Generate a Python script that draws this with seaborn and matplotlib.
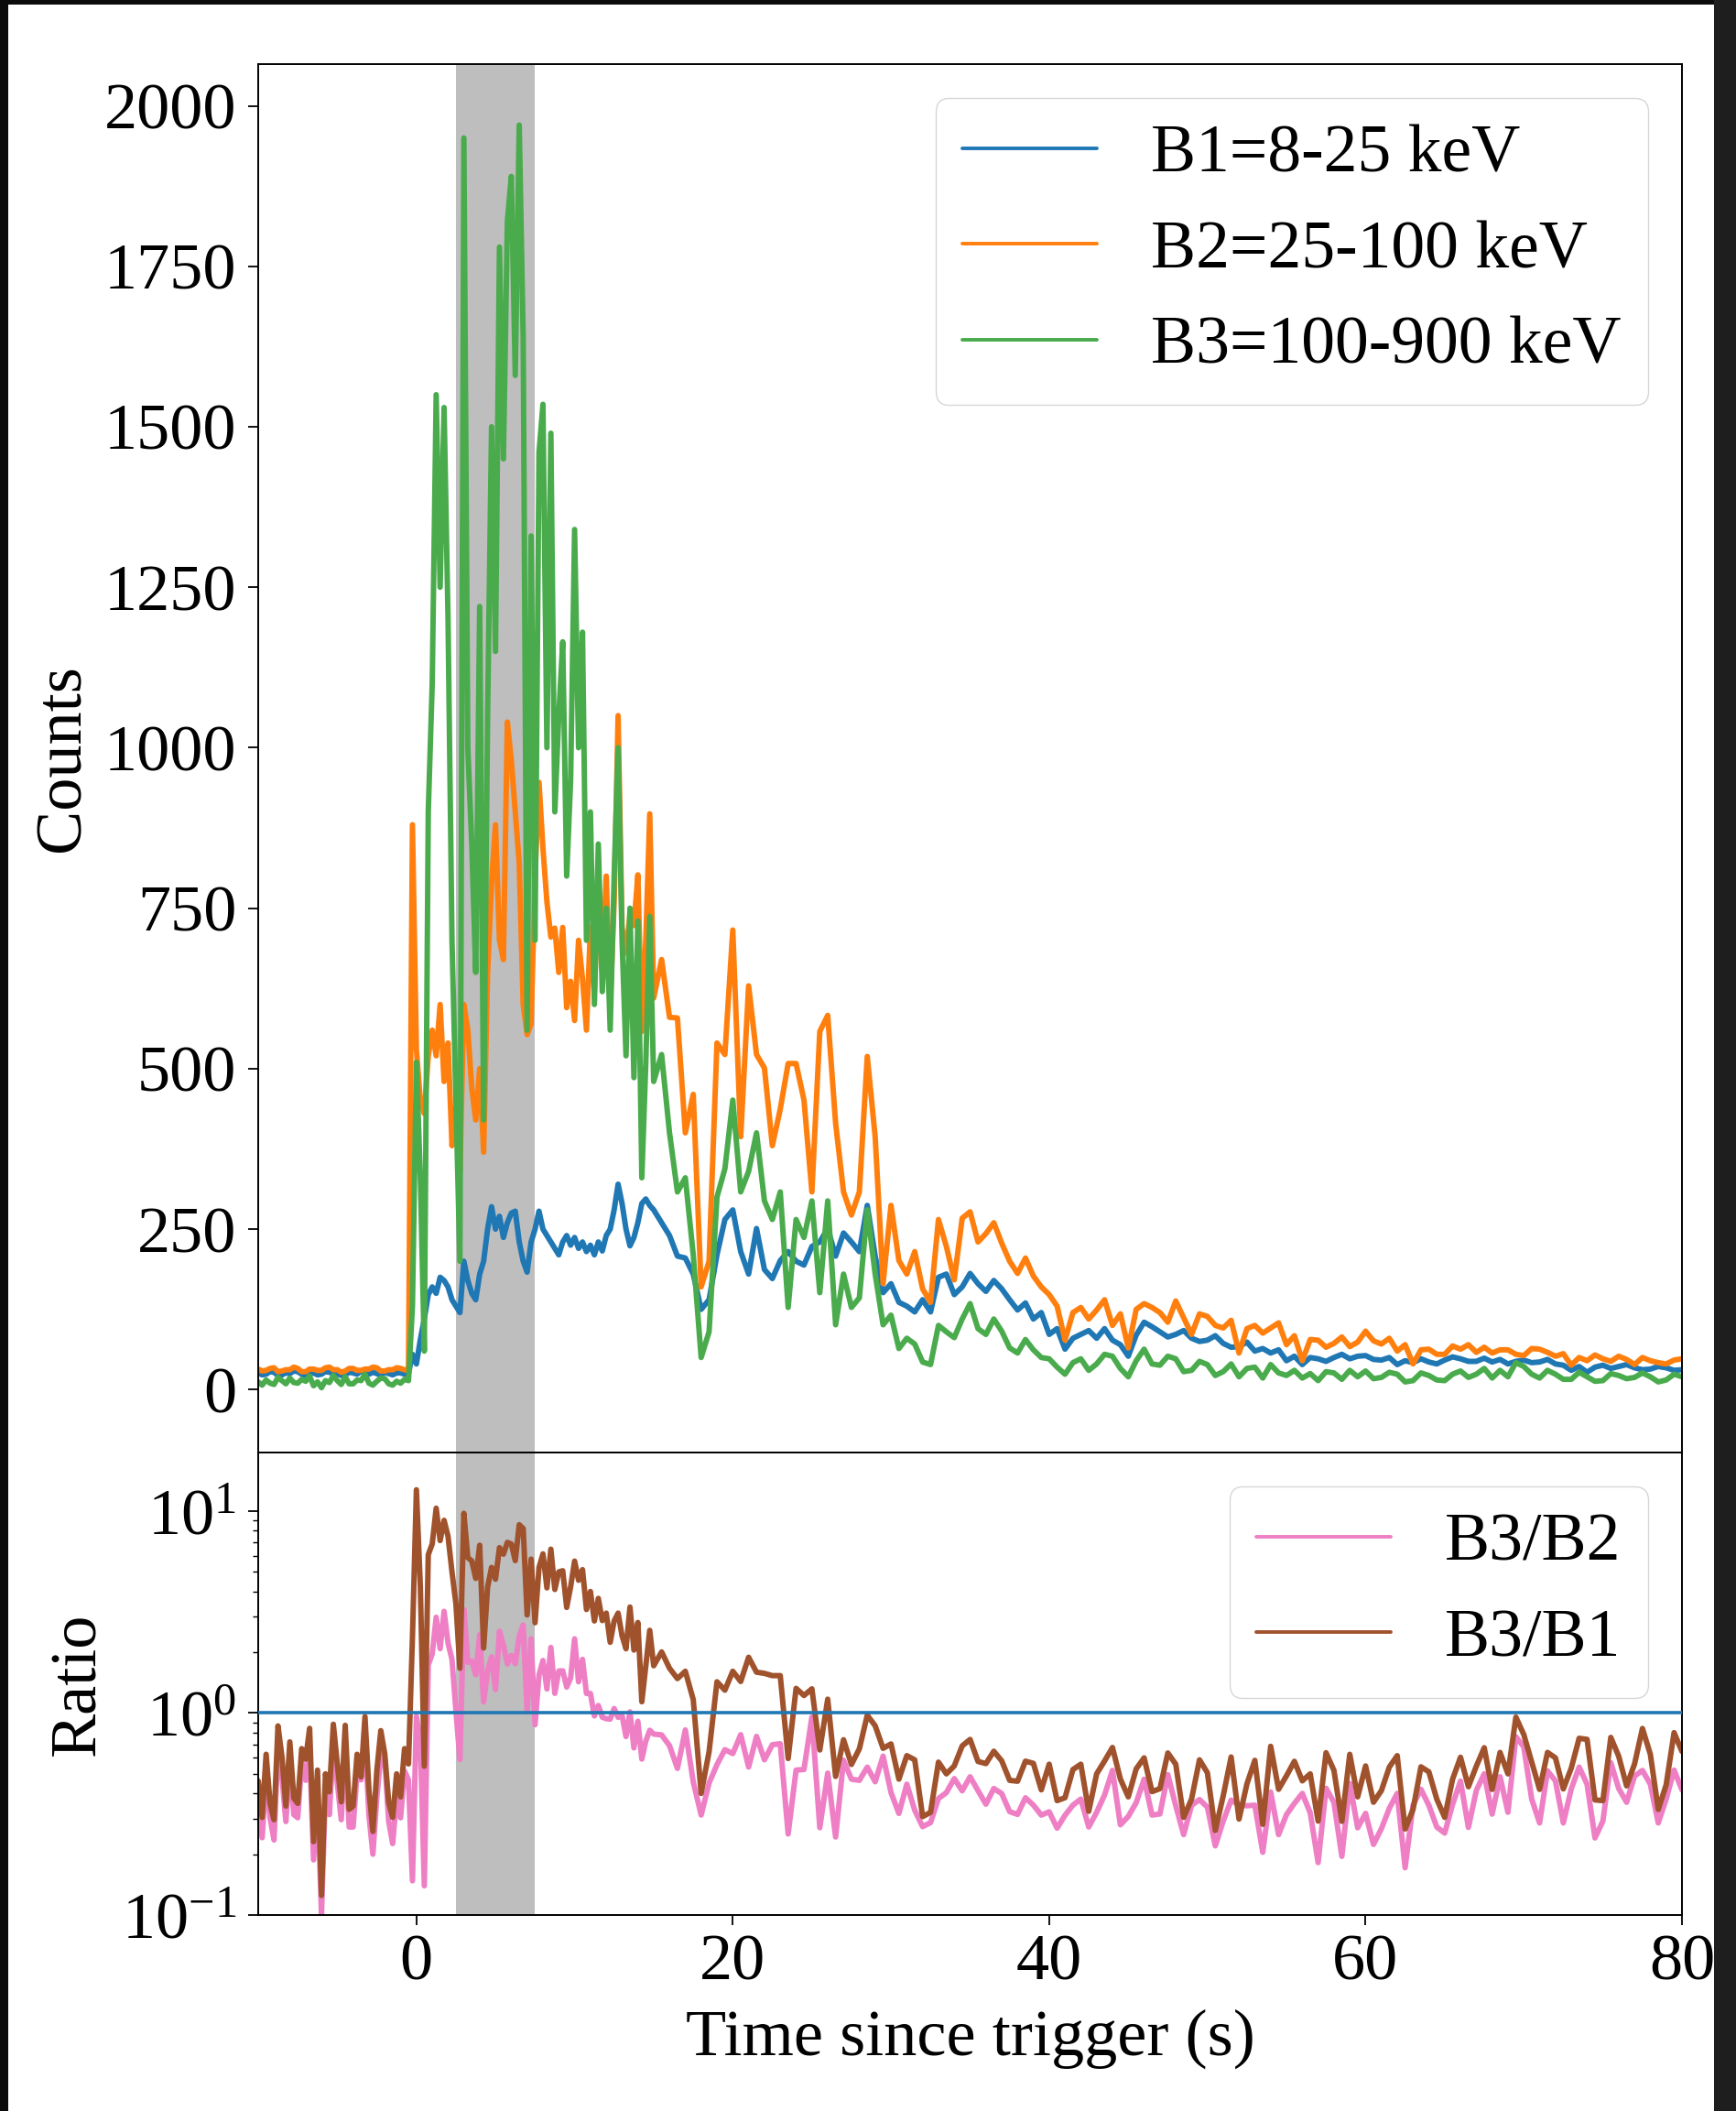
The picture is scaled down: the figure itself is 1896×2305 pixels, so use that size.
import numpy as np
import pandas as pd
import matplotlib
matplotlib.use("Agg")
import matplotlib.pyplot as plt
import seaborn as sns
from matplotlib.patches import Rectangle

# ---------------- data ----------------
# time grid (s): pre-trigger 0.25 s, burst 0.25 s, decay 0.5 s, tail 0.5 s
time_pre = np.linspace(-10.0, -0.5, 39)
time_burst = np.linspace(-0.25, 14.75, 61)
time_mid = np.linspace(15.0, 34.5, 40)
time_tail = np.linspace(35.0, 80.0, 91)

B1_pre = [26, 23, 24, 28, 27, 22, 23, 26, 25, 29, 28, 24, 22, 25, 26, 23, 24, 28, 27, 25,
          25, 22, 23, 27, 26, 24, 29, 25, 24, 27, 25, 22, 27, 25, 23, 26, 26, 24, 25]
B2_pre = [32, 29, 30, 33, 34, 28, 29, 31, 31, 35, 33, 28, 28, 32, 32, 30, 30, 34, 35, 31,
          31, 27, 29, 33, 33, 30, 30, 32, 32, 35, 34, 29, 29, 31, 31, 34, 33, 31, 30]
B3_pre = [12, 7, 15, 10, 8, 19, 14, 9, 18, 11, 10, 16, 13, 21, 6, 12, 3, 14, 11, 22,
          14, 8, 20, 9, 9, 15, 14, 24, 10, 7, 13, 18, 17, 9, 7, 13, 10, 16, 14]

B1_burst = [55,
            40, 78, 110, 148,
            160, 150, 175, 170,
            160, 140, 130, 120,
            200, 170, 150, 140,
            180, 200, 250, 285,
            250, 270, 237, 260,
            275, 278, 230, 200,
            183, 230, 250, 278,
            250, 240, 230, 220,
            210, 230, 240, 225,
            237, 220, 230, 215,
            225, 210, 230, 216,
            240, 250, 280, 320,
            290, 250, 224, 237,
            260, 290, 297, 287]
B2_burst = [880,
            530, 450, 430, 520,
            560, 520, 600, 480,
            540, 380, 440, 340,
            600, 560, 470, 420,
            500, 370, 650, 790,
            880, 700, 670, 1040,
            980, 900, 820, 600,
            553, 570, 800, 946,
            843, 760, 705, 719,
            650, 720, 595, 636,
            575, 700, 640, 560,
            720, 620, 780, 650,
            800, 600, 760, 1050,
            720, 680, 740, 723,
            802, 558, 700, 897]
B3_burst = [130,
            510, 330, 60, 900,
            1100, 1550, 1250, 1530,
            1200, 700, 450, 200,
            1950, 1000, 850, 650,
            1220, 420, 1050, 1500,
            1150, 1780, 1450, 1820,
            1890, 1580, 1970, 1640,
            560, 1330, 700, 1460,
            1535, 1000, 1490, 900,
            1050, 1165, 800, 950,
            1340, 1000, 1180, 700,
            900, 600, 850, 620,
            750, 560, 800, 1000,
            700, 520, 750, 486,
            730, 330, 508, 737]

B1_mid = [280, 260, 240, 208, 205, 180, 125, 140,
          210, 265, 280, 215, 180, 251, 187, 173,
          201, 215, 200, 194, 223, 230, 251, 208,
          244, 230, 215, 287, 208, 151, 165, 136,
          130, 121, 140, 121, 175, 180, 148, 160]
B2_mid = [610, 670, 580, 579, 400, 460, 160, 200,
          540, 522, 716, 394, 629, 522, 501, 380,
          437, 508, 508, 451, 308, 558, 583, 415,
          308, 272, 308, 519, 394, 165, 287, 201,
          180, 215, 157, 136, 265, 223, 171, 267]
B3_mid = [480, 522, 400, 308, 330, 210, 50, 90,
          300, 344, 451, 308, 340, 400, 294, 265,
          308, 128, 265, 237, 294, 151, 294, 101,
          180, 128, 143, 280, 180, 101, 116, 64,
          80, 71, 43, 39, 100, 90, 81, 110]

B1_tail = [181, 165, 153, 170, 157, 140, 124, 135, 110, 120,
           86, 95, 63, 80, 86, 92, 80, 95, 77, 70,
           52, 85, 105, 98, 90, 82, 86, 92, 80, 75,
           77, 84, 72, 66, 67, 74, 60, 64, 57, 62,
           45, 52, 39, 50, 48, 44, 50, 55, 48, 52,
           53, 47, 46, 50, 39, 45, 42, 48, 43, 40,
           46, 51, 48, 44, 44, 49, 43, 47, 40, 44,
           46, 42, 43, 47, 40, 38, 30, 36, 27, 35,
           38, 33, 36, 39, 34, 31, 32, 36, 34, 30,
           31]
B2_tail = [277, 230, 243, 260, 228, 200, 181, 205, 177, 160,
           148, 130, 77, 120, 128, 110, 124, 140, 100, 118,
           65, 125, 134, 128, 120, 105, 138, 112, 86, 118,
           114, 100, 96, 108, 57, 95, 100, 88, 96, 104,
           70, 84, 45, 78, 77, 66, 72, 82, 67, 74,
           91, 76, 71, 80, 60, 70, 40, 62, 63, 55,
           55, 68, 63, 70, 58, 66, 57, 62, 62, 55,
           53, 64, 63, 58, 52, 56, 38, 50, 45, 54,
           48, 44, 52, 47, 39, 50, 45, 42, 40, 46,
           48]
B3_tail = [134, 95, 86, 110, 91, 65, 57, 78, 62, 50,
           48, 35, 24, 42, 48, 30, 40, 55, 52, 33,
           20, 45, 63, 40, 38, 52, 48, 28, 30, 44,
           39, 22, 28, 40, 20, 33, 35, 18, 39, 26,
           22, 30, 18, 25, 14, 28, 26, 16, 30, 20,
           29, 17, 19, 27, 24, 12, 14, 26, 22, 15,
           14, 24, 29, 19, 24, 33, 18, 30, 20, 42,
           36, 24, 18, 30, 24, 16, 16, 27, 20, 13,
           14, 25, 22, 17, 19, 26, 20, 12, 15, 24,
           20]

band_labels = ["B1=8-25 keV", "B2=25-100 keV", "B3=100-900 keV"]
ratio_labels = ["B3/B2", "B3/B1"]
span_window = (2.5, 7.5)
count_ticks = [0, 250, 500, 750, 1000, 1250, 1500, 1750, 2000]
time_ticks = [0, 20, 40, 60, 80]

time = np.concatenate([time_pre, time_burst, time_mid, time_tail])
B1 = np.array(B1_pre + B1_burst + B1_mid + B1_tail, dtype=float)
B2 = np.array(B2_pre + B2_burst + B2_mid + B2_tail, dtype=float)
B3 = np.array(B3_pre + B3_burst + B3_mid + B3_tail, dtype=float)

df = pd.DataFrame({"time": time, "B1": B1, "B2": B2, "B3": B3})
df["B3/B2"] = df["B3"] / df["B2"]
df["B3/B1"] = df["B3"] / df["B1"]

# ---------------- style ----------------
sns.set_style("ticks")
plt.rcParams.update({
    "font.family": ["Liberation Serif", "DejaVu Serif"],
    "mathtext.fontset": "custom",
    "mathtext.rm": "Liberation Serif",
    "mathtext.it": "Liberation Serif:italic",
    "mathtext.bf": "Liberation Serif:bold",
    "font.size": 52,
    "axes.labelsize": 52,
    "xtick.labelsize": 52,
    "ytick.labelsize": 52,
    "legend.fontsize": 53,
    "text.color": "black",
    "axes.labelcolor": "black",
    "axes.edgecolor": "black",
    "axes.linewidth": 1.4,
    "xtick.color": "black",
    "ytick.color": "black",
    "xtick.major.size": 8,
    "ytick.major.size": 8,
    "ytick.minor.size": 4.5,
    "xtick.major.width": 1.3,
    "ytick.major.width": 1.3,
    "ytick.minor.width": 1.0,
    "xtick.major.pad": 7,
    "ytick.major.pad": 9,
})

W, H = 1896, 2305
fig = plt.figure(figsize=(W / 100, H / 100), dpi=100, facecolor="#0b0b0b")
fig.add_artist(Rectangle((9 / W, 0), (1872 - 9) / W, (H - 5) / H,
                         transform=fig.transFigure, facecolor="white",
                         edgecolor="none", zorder=-10))

ax1 = fig.add_axes([282 / W, 1 - 1586 / H, (1837 - 282) / W, (1586 - 70) / H])
ax2 = fig.add_axes([282 / W, 1 - 2091 / H, (1837 - 282) / W, (2091 - 1586) / H], sharex=ax1)

lw = 4.3
c_b1, c_b2, c_b3 = "#1f77b4", "#ff7f0e", "#4aab4d"
c_r32, c_r31 = "#ee7fc4", "#a0522d"

# ---- top panel: counts ----
ax1.axvspan(*span_window, facecolor="#bebebe", edgecolor="none", lw=0, zorder=0)
ax2.axvspan(*span_window, facecolor="#bebebe", edgecolor="none", lw=0, zorder=0)
for col, c, lab in zip(["B1", "B2", "B3"], [c_b1, c_b2, c_b3], band_labels):
    sns.lineplot(data=df, x="time", y=col, ax=ax1, color=c, lw=lw,
                 label=lab, estimator=None, sort=False)

ax1.set_ylim(-98, 2065)
ax1.set_yticks(count_ticks)
ax1.set_ylabel("Counts")
ax1.set_xlabel("")
ax1.tick_params(axis="x", which="both", length=0, labelbottom=False)
leg1 = ax1.legend(loc="upper right", frameon=True)
for h in leg1.get_lines():
    h.set_linewidth(2.8)
ax1.yaxis.set_label_coords(-0.116, 0.5)

# ---- bottom panel: ratios ----
ax2.set_yscale("log")
for col, c in zip(ratio_labels, [c_r32, c_r31]):
    sns.lineplot(data=df, x="time", y=col, ax=ax2, color=c, lw=lw,
                 label=col, estimator=None, sort=False)
ax2.axhline(1.0, color=c_b1, lw=2.6, zorder=3)
ax2.set_ylim(0.1, 19.5)
ax2.set_xlim(-10, 80)
ax2.set_xticks(time_ticks)
ax2.set_ylabel("Ratio")
ax2.set_xlabel("Time since trigger (s)", labelpad=12)
leg2 = ax2.legend(loc="upper right", frameon=True)
for h in leg2.get_lines():
    h.set_linewidth(2.8)
ax2.yaxis.set_label_coords(-0.105, 0.5)

for ax in (ax1, ax2):
    for s in ax.spines.values():
        s.set_visible(True)
        s.set_color("black")
        s.set_linewidth(1.4)

# dark strip at the right edge of the screenshot
fig.add_artist(Rectangle((1872 / W, 0), 1, 1, transform=fig.transFigure,
                         facecolor="#1e1e1e", edgecolor="none", zorder=20))

fig.savefig("out.png", dpi=100, facecolor=fig.get_facecolor())
